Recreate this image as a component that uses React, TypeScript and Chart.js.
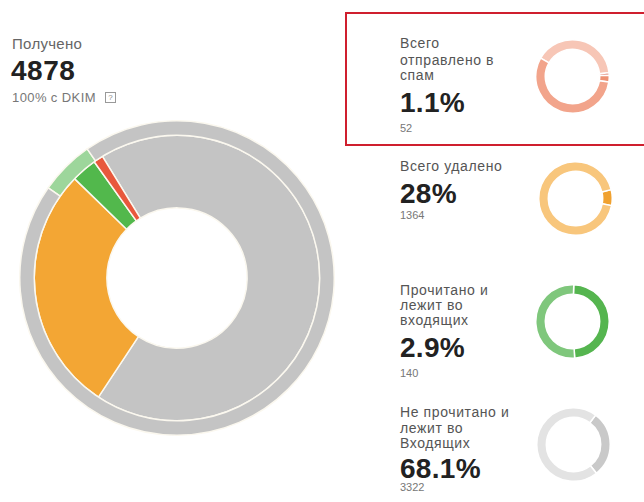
import React, { useEffect, useRef } from "react";
import { Chart, registerables } from "chart.js";

Chart.register(...registerables);

// ---- data ----
const receivedLabel = "Получено";
const receivedTotal = "4878";
const dkimLabel = "100% с DKIM";

const mainCategories = [
  "Не прочитано и лежит во Входящих",
  "Всего удалено",
  "Прочитано и лежит во входящих",
  "Всего отправлено в спам",
];
const mainInnerValues = [68.1, 28, 2.9, 1.1];
const mainInnerColors = ["#c4c4c4", "#f3a634", "#52b84c", "#e8583c"];
const mainInnerRotation = 328.5;
const mainOuterCategories = ["Прочитано", "Остальное"];
const mainOuterValues = [5.6, 94.4];
const mainOuterColors = ["#9dd69b", "#c4c4c4"];
const mainOuterRotation = 305;

const statTitles = [
  ["Всего", "отправлено в", "спам"],
  ["Всего удалено"],
  ["Прочитано и", "лежит во", "входящих"],
  ["Не прочитано и", "лежит во", "Входящих"],
];
const statPercents = ["1.1%", "28%", "2.9%", "68.1%"];
const statCounts = ["52", "1364", "140", "3322"];

const miniValues = [
  [40, 1.1, 3, 55.9],
  [7, 93],
  [48.5, 51.5],
  [29, 71],
];
const miniColors = [
  ["#f7c6b6", "#d4553e", "#ee9274", "#f2a48b"],
  ["#f0a12f", "#f8c67c"],
  ["#55b54f", "#7fc77c"],
  ["#c9c9c9", "#e3e3e3"],
];
const miniRotations = [300, 76, 2, 37];

// ---- layout ----
const FONT = "'Liberation Sans', Arial, sans-serif";

type DS = {
  data: number[];
  backgroundColor: string[];
  rotation: number;
  weight?: number;
  borderWidth: number;
  borderColor: string;
};

function Donut(props: {
  labels: string[];
  datasets: DS[];
  cutout: string;
  size: number;
  left: number;
  top: number;
}) {
  const ref = useRef<HTMLCanvasElement | null>(null);
  useEffect(() => {
    if (!ref.current) return;
    const chart = new Chart(ref.current, {
      type: "doughnut",
      data: { labels: props.labels, datasets: props.datasets as any },
      options: {
        responsive: false,
        animation: false,
        cutout: props.cutout,
        events: [],
        layout: { padding: 0 },
        plugins: { legend: { display: false }, tooltip: { enabled: false } },
      } as any,
    });
    return () => chart.destroy();
  }, []);
  return (
    <canvas
      ref={ref}
      width={props.size}
      height={props.size}
      style={{
        position: "absolute",
        left: props.left,
        top: props.top,
        width: props.size,
        height: props.size,
      }}
    />
  );
}

function Line(props: {
  x: number;
  baseline: number;
  size: number;
  text: string;
  color: string;
  bold?: boolean;
  ls?: number;
}) {
  const top = props.baseline - 0.8465 * props.size;
  return (
    <div
      style={{
        position: "absolute",
        left: props.x,
        top,
        fontFamily: FONT,
        fontSize: props.size,
        lineHeight: `${props.size}px`,
        fontWeight: props.bold ? 700 : 400,
        color: props.color,
        letterSpacing: props.ls ?? 0,
        whiteSpace: "nowrap",
      }}
    >
      {props.text}
    </div>
  );
}

const titleBaselines = [
  [48.3, 64.5, 80],
  [170.7],
  [295, 310, 325],
  [416.7, 432.5, 448.3],
];
const percentBaselines = [112.7, 203.5, 357.5, 478.5];
const countBaselines = [132.3, 219, 377.5, 491];
const miniCenters = [
  [572, 76.5],
  [575, 198],
  [572.5, 321.5],
  [573, 444.5],
];

export default function App() {
  const miniSize = 75;
  return (
    <div
      style={{
        position: "fixed",
        left: 0,
        top: 0,
        width: 644,
        height: 502,
        overflow: "hidden",
        background: "#ffffff",
      }}
    >
      <Line x={12} baseline={48.3} size={15} text={receivedLabel} color="#666" ls={0.3} />
      <Line x={11} baseline={80.7} size={28} text={receivedTotal} color="#222" bold ls={0.5} />
      <Line x={12} baseline={101.7} size={13} text={dkimLabel} color="#777" ls={0.4} />
      <div
        style={{
          position: "absolute",
          left: 105,
          top: 92,
          width: 9,
          height: 9,
          border: "1px solid #999",
          fontFamily: FONT,
          fontSize: 8,
          lineHeight: "9px",
          textAlign: "center",
          color: "#888",
        }}
      >
        ?
      </div>

      <Donut
        labels={mainCategories}
        cutout="44.6%"
        size={316}
        left={19}
        top={120}
        datasets={[
          {
            data: mainOuterValues,
            backgroundColor: mainOuterColors,
            rotation: mainOuterRotation,
            weight: 1,
            borderWidth: 1.5,
            borderColor: "#fbf8ef",
          },
          {
            data: mainInnerValues,
            backgroundColor: mainInnerColors,
            rotation: mainInnerRotation,
            weight: 5,
            borderWidth: 1.5,
            borderColor: "#fbf8ef",
          },
        ]}
      />

      <div
        style={{
          position: "absolute",
          left: 345,
          top: 12,
          width: 330,
          height: 130,
          border: "2px solid #cf1f2e",
        }}
      />

      {statTitles.map((lines, i) => (
        <React.Fragment key={i}>
          {lines.map((t, j) => (
            <Line key={j} x={400} baseline={titleBaselines[i][j]} size={14} text={t} color="#555" ls={0.6} />
          ))}
          <Line x={400} baseline={percentBaselines[i]} size={28} text={statPercents[i]} color="#222" bold ls={0.3} />
          <Line x={400} baseline={countBaselines[i]} size={11} text={statCounts[i]} color="#777" />
          <Donut
            labels={miniValues[i].map((_, k) => `${statTitles[i].join(" ")} ${k}`)}
            cutout="74%"
            size={miniSize}
            left={miniCenters[i][0] - miniSize / 2}
            top={miniCenters[i][1] - miniSize / 2}
            datasets={[
              {
                data: miniValues[i],
                backgroundColor: miniColors[i],
                rotation: miniRotations[i],
                borderWidth: 1.5,
                borderColor: "#ffffff",
              },
            ]}
          />
        </React.Fragment>
      ))}
    </div>
  );
}
